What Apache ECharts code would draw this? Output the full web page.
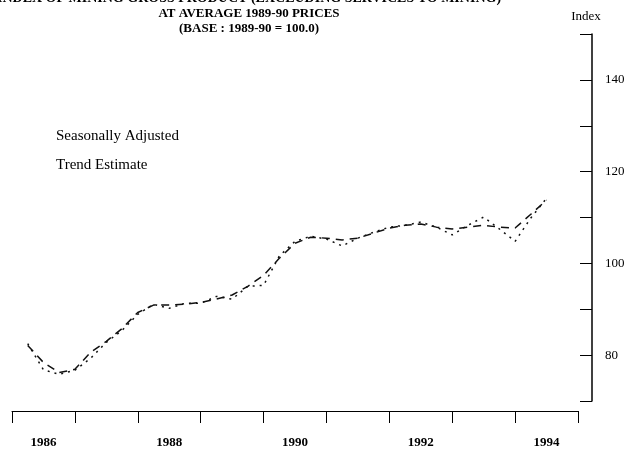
<!DOCTYPE html>
<html>
<head>
<meta charset="utf-8">
<script src="https://cdn.jsdelivr.net/npm/echarts@6/dist/echarts.min.js"></script>
<style>
html,body{margin:0;padding:0;background:#fff;}
#c{width:641px;height:451px;}
</style>
</head>
<body>
<div id="c"></div>
<script>
// Quarter positions (quarters counted from the start of the 1986 band)
var quarterPos = [1,2,3,4,5,6,7,8,9,10,11,12,13,14,15,16,17,18,19,20,21,22,23,24,25,26,27,28,29,30,31,32,33,34];
var seasonallyAdjusted = [82.5,76.8,75.8,76.7,79.3,82.8,85.4,88.9,91.1,90.2,91.3,91.3,92.8,92.2,95.0,95.2,101.6,104.8,105.9,105.3,103.8,105.5,106.8,107.9,108.3,109.0,107.9,106.2,108.3,110.1,107.5,104.8,109.9,114.2];
var trendEstimate = [82.1,78.4,76.2,76.9,80.6,83.0,85.8,89.3,90.9,90.9,91.1,91.5,92.2,93.1,95.0,97.4,101.1,104.4,105.7,105.5,105.1,105.5,106.6,107.7,108.3,108.6,107.9,107.5,107.9,108.3,107.9,107.7,110.7,113.8];
var yearLabels = ['1986','1988','1990','1992','1994'];
var yearLabelPos = [2,10,18,26,34];
var yTickLabels = ['140','120','100','80'];
var titleLines = ['INDEX OF MINING GROSS PRODUCT (EXCLUDING SERVICES TO MINING)','AT AVERAGE 1989-90 PRICES','(BASE : 1989-90 = 100.0)'];

function pairs(xs, ys){ return xs.map(function(x,i){ return [x, ys[i]]; }); }

var serif = '"Liberation Serif","DejaVu Serif",serif';
var chart = echarts.init(document.getElementById('c'), null, {renderer:'canvas'});
chart.setOption({
  animation:false,
  backgroundColor:'#ffffff',
  grid:{left:12,right:63,top:34,bottom:50, containLabel:false, outerBoundsMode:'none'},
  graphic: titleLines.map(function(t,i){
    return {type:'text', x:249, y:(i===0?-9:-8)+i*15, z:10,
      style:{text:t, fill:'#000', font:'bold '+(i===0?14:13)+'px '+serif, textAlign:'center'}};
  }),
  legend:{
    show:true, orient:'vertical', left:46, top:124, itemGap:14,
    icon:'none', itemWidth:0, itemHeight:0,
    textStyle:{fontFamily:serif, fontSize:15, color:'#000'},
    data:['Seasonally Adjusted','Trend Estimate']
  },
  xAxis:[{
    type:'value', min:0, max:36, interval:4, position:'bottom', offset:10,
    axisLine:{show:true, onZero:false, lineStyle:{color:'#000', width:1}},
    axisTick:{show:true, inside:false, length:12, lineStyle:{color:'#000', width:1}},
    axisLabel:{show:false},
    splitLine:{show:false}
  },{
    type:'value', min:0, max:36, interval:2, position:'bottom', offset:10,
    axisLine:{show:false, onZero:false}, axisTick:{show:false}, splitLine:{show:false},
    axisLabel:{show:true, margin:25, color:'#000', fontFamily:serif, fontWeight:'bold', fontSize:13,
      formatter:function(v){ var i=yearLabelPos.indexOf(v); return i>=0?yearLabels[i]:''; }}
  }],
  yAxis:{
    type:'value', min:70, max:150, interval:10, position:'right', offset:14,
    name:'Index', nameLocation:'end', nameGap:11,
    nameTextStyle:{fontFamily:serif, fontSize:13, color:'#000', padding:[0,12,0,0]},
    axisLine:{show:true, onZero:false, lineStyle:{color:'#000', width:1.5}},
    axisTick:{show:true, inside:true, length:12, lineStyle:{color:'#000', width:1}},
    axisLabel:{show:true, margin:13, color:'#000', fontFamily:serif, fontSize:13,
      formatter:function(v){ var s=String(v); return yTickLabels.indexOf(s)>=0?s:''; }},
    splitLine:{show:false}
  },
  series:[{
    name:'Seasonally Adjusted', type:'line', xAxisIndex:0, showSymbol:false, symbol:'none',
    data:pairs(quarterPos, seasonallyAdjusted),
    lineStyle:{color:'#111', width:1.5, type:[2,5]}
  },{
    name:'Trend Estimate', type:'line', xAxisIndex:0, showSymbol:false, symbol:'none',
    data:pairs(quarterPos, trendEstimate),
    lineStyle:{color:'#111', width:1.5, type:[8,6]}
  }]
});
</script>
</body>
</html>
